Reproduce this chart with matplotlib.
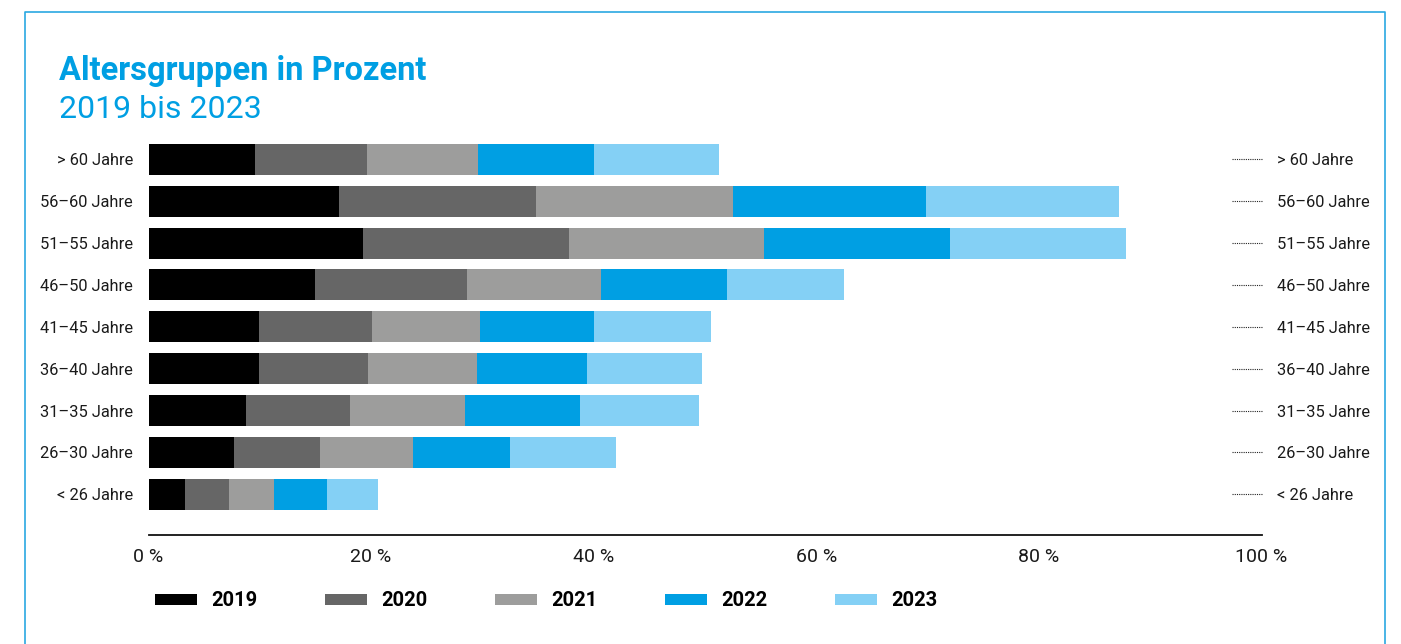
"""
Altersgruppen in Prozent, 2019 bis 2023 - gestapelte Balken je Altersgruppe.
"""
import matplotlib
matplotlib.use("Agg")
import matplotlib.pyplot as plt
from matplotlib.patches import Patch
from matplotlib.lines import Line2D
from matplotlib.transforms import blended_transform_factory

plt.rcParams["font.family"] = ["Roboto", "DejaVu Sans"]

# Altersgruppen (oben nach unten)
groups = ["> 60 Jahre", "56–60 Jahre", "51–55 Jahre", "46–50 Jahre", "41–45 Jahre",
          "36–40 Jahre", "31–35 Jahre", "26–30 Jahre", "< 26 Jahre"]
years = ["2019", "2020", "2021", "2022", "2023"]

# Anteile je Jahr (%)
v2019 = [9.6, 17.1, 19.3, 15.0, 9.9, 9.9, 8.8, 7.7, 3.3]
v2020 = [10.0, 17.7, 18.5, 13.6, 10.2, 9.8, 9.3, 7.7, 3.9]
v2021 = [10.0, 17.7, 17.5, 12.1, 9.7, 9.8, 10.3, 8.4, 4.1]
v2022 = [10.4, 17.4, 16.7, 11.3, 10.2, 9.9, 10.4, 8.7, 4.7]
v2023 = [11.3, 17.3, 15.8, 10.5, 10.5, 10.3, 10.7, 9.5, 4.6]
series = [v2019, v2020, v2021, v2022, v2023]

colors = ["#000000", "#666666", "#9d9d9c", "#009fe3", "#84d0f5"]
blue = "#009fe3"
text_col = "#1a1a1a"

W, H = 1401, 644
fig = plt.figure(figsize=(W / 100, H / 100), dpi=100)

# Rahmen (oben, links, rechts)
fig.add_artist(Line2D([25 / W, 25 / W, 1385 / W, 1385 / W], [0, 1 - 12 / H, 1 - 12 / H, 0],
                      transform=fig.transFigure, color="#2aa8e2", lw=1.2))

fig.text(59 / W, 1 - 80 / H, "Altersgruppen in Prozent", color=blue, fontsize=23.5,
         fontweight="bold", ha="left", va="baseline")
fig.text(59 / W, 1 - 118 / H, "2019 bis 2023", color=blue, fontsize=23,
         ha="left", va="baseline")

ax = fig.add_axes([148.5 / W, 1 - 535 / H, 1113 / W, 395 / H])
pos = list(range(len(groups)))
left = [0] * len(groups)
for vals, col, yr in zip(series, colors, years):
    ax.barh(pos, vals, left=left, height=0.74, color=col, label=yr, linewidth=0)
    left = [a + b for a, b in zip(left, vals)]

ax.set_xlim(0, 100)
ax.set_ylim(8.97, -0.46)
ax.set_xticks(range(0, 101, 20))
ax.set_xticklabels([f"{t} %" for t in range(0, 101, 20)], fontsize=14, color=text_col)
ax.set_yticks(pos)
ax.set_yticklabels(groups, fontsize=11.8, color=text_col)
ax.tick_params(axis="both", length=0)
ax.tick_params(axis="y", pad=11)
ax.tick_params(axis="x", pad=9)
for s in ["top", "right", "left"]:
    ax.spines[s].set_visible(False)
ax.spines["bottom"].set_linewidth(1.3)
ax.spines["bottom"].set_color("#111111")

# rechte Beschriftung mit gepunkteten Linien
tr = blended_transform_factory(fig.transFigure, ax.transData)
for p, g in zip(pos, groups):
    ax.plot([1232 / W, 1263 / W], [p, p], transform=tr, color="#222222", lw=0.8,
            linestyle=(0, (1, 1)), clip_on=False)
    ax.text(1277 / W, p, g, transform=tr, fontsize=11.8, color=text_col,
            ha="left", va="center_baseline")

handles = [Patch(facecolor=c, edgecolor="none", label=y) for c, y in zip(colors, years)]
fig.legend(handles=handles, loc="center left", bbox_to_anchor=(155 / W, 1 - 601 / H),
           ncol=5, frameon=False, borderpad=0, borderaxespad=0,
           handlelength=2.1, handleheight=0.45, handletextpad=0.7, columnspacing=3.35,
           prop={"size": 14.5, "weight": "bold"})

fig.savefig("out.png", dpi=100)
plt.close(fig)
print("Saved out.png")
